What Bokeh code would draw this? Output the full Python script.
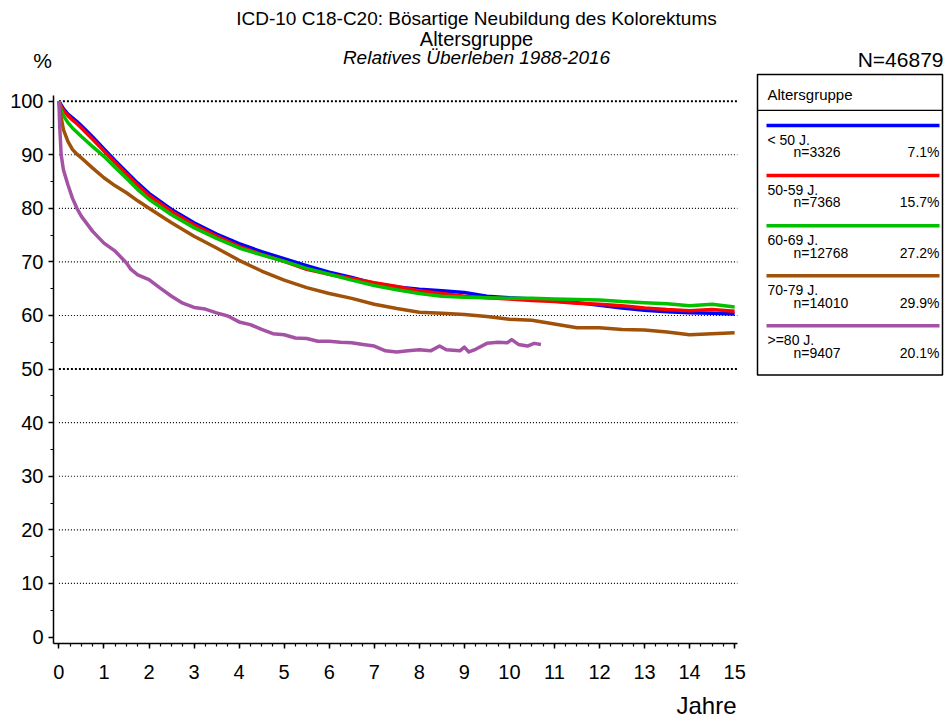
from bokeh.plotting import figure
from bokeh.models import Range1d, FixedTicker, Title
from bokeh.layouts import column, row
from bokeh.core.properties import value
from bokeh.embed import file_html
from bokeh.resources import INLINE

# ---------------- data ----------------
t_years = [0, 0.05, 0.1, 0.2, 0.3, 0.4, 0.5, 0.75, 1, 1.25, 1.5, 1.75, 2, 2.5, 3, 3.5, 4, 4.5, 5,
           5.5, 6, 6.5, 7, 7.5, 8, 8.5, 9, 9.5, 10, 10.5, 11, 11.5, 12, 12.5, 13, 13.5, 14, 14.5, 15]
surv_lt50 = [100, 99.3, 98.6, 97.6, 96.9, 96.2, 95.4, 93.3, 91.1, 88.9, 86.8, 84.7, 82.8, 79.8, 77.3, 75.2,
             73.4, 71.9, 70.6, 69.3, 68.1, 67.1, 66.0, 65.3, 64.9, 64.6, 64.3, 63.6, 63.3, 63.1, 62.7, 62.4,
             61.9, 61.4, 61.0, 60.7, 60.5, 60.4, 60.3]
surv_50_59 = [100, 99.0, 98.3, 97.3, 96.5, 95.8, 95.0, 92.9, 90.7, 88.5, 86.4, 84.3, 82.4, 79.4, 76.9, 74.8,
              72.9, 71.4, 70.1, 68.6, 67.7, 66.9, 66.1, 65.4, 64.6, 64.1, 63.6, 63.3, 63.1, 62.8, 62.6, 62.3,
              62.1, 61.8, 61.4, 61.1, 60.9, 61.1, 60.8]
surv_60_69 = [100, 98.3, 97.3, 96.0, 95.0, 94.2, 93.4, 91.5, 89.7, 87.6, 85.6, 83.5, 81.7, 78.8, 76.4, 74.4,
              72.6, 71.3, 70.1, 68.8, 67.7, 66.6, 65.6, 64.8, 64.1, 63.6, 63.4, 63.3, 63.2, 63.2, 63.1, 63.0,
              62.9, 62.6, 62.4, 62.2, 61.8, 62.1, 61.6]
surv_70_79 = [100, 97.0, 94.7, 92.5, 91.0, 90.1, 89.4, 87.5, 85.7, 84.2, 82.9, 81.4, 80.0, 77.3, 74.8, 72.6,
              70.3, 68.3, 66.6, 65.2, 64.1, 63.2, 62.1, 61.3, 60.6, 60.4, 60.2, 59.8, 59.3, 59.1, 58.4, 57.7,
              57.7, 57.4, 57.3, 56.9, 56.4, 56.6, 56.8]
t_80 = [0, 0.02, 0.05, 0.1, 0.2, 0.3, 0.4, 0.5, 0.75, 1, 1.25, 1.5, 1.6, 1.75, 2, 2.25, 2.5, 2.75, 3, 3.25,
        3.5, 3.75, 4, 4.25, 4.5, 4.75, 5, 5.25, 5.5, 5.75, 6, 6.25, 6.5, 6.75, 7, 7.25, 7.5, 7.75, 8, 8.25,
        8.45, 8.6, 8.9, 9, 9.1, 9.25, 9.5, 9.75, 9.95, 10.05, 10.2, 10.4, 10.55, 10.7]
surv_80 = [100, 95, 90, 87.2, 84.4, 81.9, 80, 78.5, 75.7, 73.5, 72, 69.8, 68.6, 67.6, 66.7, 65.1, 63.6, 62.3,
           61.5, 61.2, 60.5, 59.9, 58.8, 58.3, 57.4, 56.6, 56.4, 55.8, 55.7, 55.2, 55.2, 55.0, 54.9, 54.6,
           54.3, 53.4, 53.2, 53.4, 53.6, 53.4, 54.3, 53.6, 53.4, 54.1, 53.2, 53.7, 54.8, 55.0, 54.9, 55.5,
           54.6, 54.3, 54.8, 54.6]

groups = ["< 50 J.", "50-59 J.", "60-69 J.", "70-79 J.", ">=80 J."]
n_counts = [3326, 7368, 12768, 14010, 9407]
shares = ["7.1%", "15.7%", "27.2%", "29.9%", "20.1%"]
colors = ["#0000FF", "#FF0000", "#00C000", "#A0520A", "#A452A4"]
y_ticks = [0, 10, 20, 30, 40, 50, 60, 70, 80, 90, 100]
y_minor = [5, 15, 25, 35, 45, 55, 65, 75, 85, 95]
x_ticks = list(range(0, 16))
x_minor = [i / 4 for i in range(0, 61)]
title_lines = ["ICD-10 C18-C20: Bösartige Neubildung des Kolorektums", "Altersgruppe",
               "Relatives Überleben 1988-2016"]
total_n = 46879
legend_title = "Altersgruppe"
x_label = "Jahre"
y_unit = "%"

series_t = [t_years, t_years, t_years, t_years, t_80]
series_v = [surv_lt50, surv_50_59, surv_60_69, surv_70_79, surv_80]

# ---------------- layout constants (picture pixels) ----------------
FONT = "Liberation Sans"
PW, PH = 952, 727
TOP_H = 72
FL, FB = 53, 644             # frame left / bottom of main plot
X0_PX, X_PER = 58.4, 45.05   # x=0 position, px per year
Y0_PX, Y_PER = 637.5, 5.368  # y=0 position, px per percent


def txt(f, x, y, text, size, align="left", style="normal", xr="default", yr="default"):
    f.text(x=[x], y=[y], text=[text], text_font=value(FONT), text_font_size=value(size),
           text_align=align, text_baseline="middle", text_font_style=style, text_color="black",
           x_range_name=xr, y_range_name=yr)


# ---- top band: titles, %, N ----
top = figure(width=PW, height=TOP_H, x_range=Range1d(0, PW), y_range=Range1d(TOP_H, 0),
             x_axis_type=None, y_axis_type=None, min_border=0, output_backend="svg",
             toolbar_location=None)
top.outline_line_color = None
top.grid.visible = False
txt(top, 476, 17.5, title_lines[0], "19px", align="center")
txt(top, 476, 38.5, title_lines[1], "20px", align="center")
txt(top, 476, 56.5, title_lines[2], "19px", align="center", style="italic")
txt(top, 42, 59.5, y_unit, "21px", align="center")
txt(top, 943, 58.5, f"N={total_n}", "21px", align="right")

# ---- main plot (frame extends to the right edge to host the legend) ----
main_h = PH - TOP_H
x_start = (FL - X0_PX) / X_PER
x_end = (PW - X0_PX) / X_PER
y_start = (Y0_PX - FB) / Y_PER
y_end = (Y0_PX - TOP_H) / Y_PER
p = figure(width=PW, height=main_h, output_backend="svg", toolbar_location=None,
           x_range=Range1d(x_start, x_end), y_range=Range1d(y_start, y_end),
           min_border_left=FL, min_border_right=0, min_border_top=0, min_border_bottom=PH - FB)
p.outline_line_color = None
p.background_fill_color = "white"
p.border_fill_color = "white"
p.extra_x_ranges = {"px": Range1d(FL, PW)}
p.extra_y_ranges = {"px": Range1d(FB, TOP_H)}

x_axis_end = 15.06
y_axis_end = 101.06
for ax in (p.xaxis[0], p.yaxis[0]):
    ax.axis_line_color = "black"
    ax.axis_line_width = 1.5
    ax.major_tick_line_color = "black"
    ax.major_tick_line_width = 1.5
    ax.minor_tick_line_color = "black"
    ax.minor_tick_line_width = 1.2
    ax.major_tick_in = 0
    ax.minor_tick_in = 0
    ax.major_tick_out = 5
    ax.minor_tick_out = 3
    ax.major_label_text_font = FONT
    ax.major_label_text_font_size = "20px"
    ax.major_label_text_color = "black"
p.xaxis.bounds = (x_start, x_axis_end)
p.yaxis.bounds = (y_start, y_axis_end)
p.xaxis.ticker = FixedTicker(ticks=x_ticks, minor_ticks=x_minor)
p.yaxis.ticker = FixedTicker(ticks=y_ticks, minor_ticks=y_minor)
p.xaxis.major_label_standoff = 16
p.yaxis.major_label_standoff = 5
p.grid.visible = False

# dotted reference lines at the y ticks (50 and 100 drawn heavier)
thin = [v for v in y_ticks if v not in (0, 50, 100)]
heavy = [50, 100]
p.segment(x0=[0] * len(thin), x1=[x_axis_end] * len(thin), y0=thin, y1=thin,
          line_color="black", line_width=1.2, line_dash="1 2")
p.segment(x0=[0] * len(heavy), x1=[x_axis_end] * len(heavy), y0=heavy, y1=heavy,
          line_color="black", line_width=2, line_dash="2 2")

for t, v, c in zip(series_t, series_v, colors):
    p.line(t, v, line_color=c, line_width=3.5, line_join="round")

# "align right" measures the offset leftwards from the right frame edge
p.add_layout(Title(text=x_label, align="right", text_font=FONT, text_font_size="24px",
                   text_font_style="normal", text_color="black", offset=PW - 736, standoff=17),
             "below")

# ---- legend (pixel coordinates through the "px" ranges) ----
BL, BR, BT, BB = 757, 942, 74, 375
p.quad(left=[BL], right=[BR], top=[BT], bottom=[BB], fill_color="white", line_color="black",
       line_width=1.5, x_range_name="px", y_range_name="px")
p.segment(x0=[BL], x1=[BR], y0=[110], y1=[110], line_color="black", line_width=1.2,
          x_range_name="px", y_range_name="px")
txt(p, 767, 94, legend_title, "15px", xr="px", yr="px")
for i, (g, n, s, c) in enumerate(zip(groups, n_counts, shares, colors)):
    yl = 125 + 50.2 * i
    p.segment(x0=[766], x1=[939], y0=[yl], y1=[yl], line_color=c, line_width=3.5,
              x_range_name="px", y_range_name="px")
    txt(p, 767, yl + 14.5, g, "14px", xr="px", yr="px")
    txt(p, 793, yl + 27, f"n={n}", "14px", xr="px", yr="px")
    txt(p, 939, yl + 27, s, "14px", align="right", xr="px", yr="px")

layout = column(top, row(p))
open("out.html", "w").write(file_html(layout, INLINE))
